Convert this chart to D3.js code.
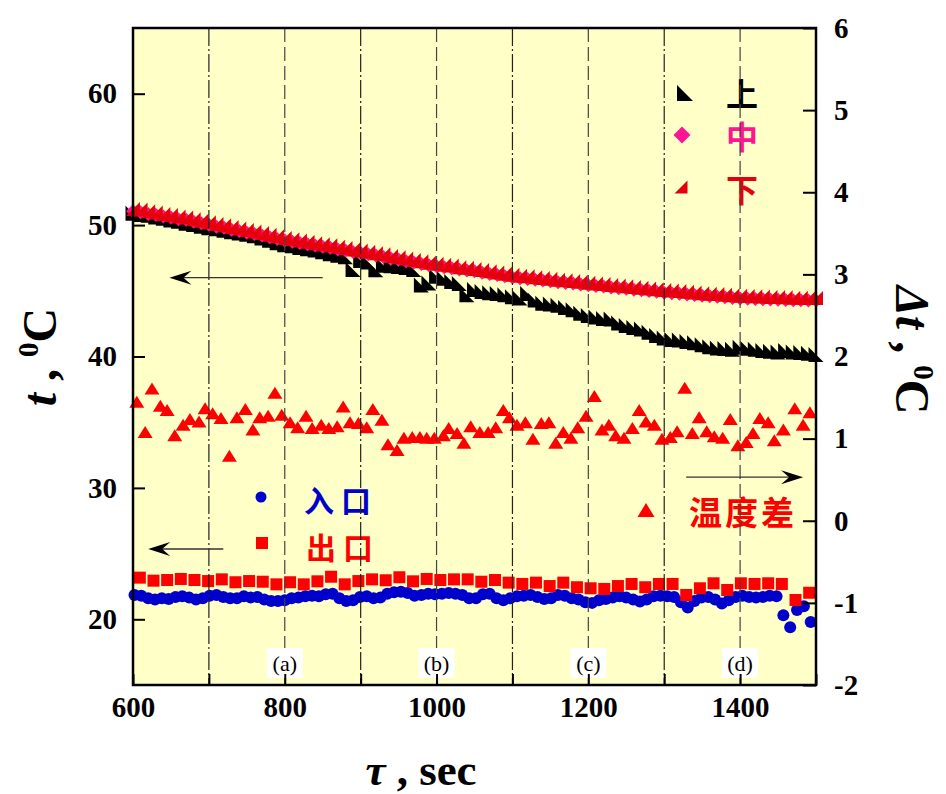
<!DOCTYPE html>
<html>
<head>
<meta charset="utf-8">
<script src="https://cdn.jsdelivr.net/npm/d3@7"></script>
<style>
body { margin: 0; background: #fff; }
</style>
</head>
<body>
<div id="vis"></div>
<script>
// Data

// 上 / 中 / 下 sampled every 10 s
const timeTop = [600,610,620,630,640,650,660,670,680,690,
    700,710,720,730,740,750,760,770,780,790,
    800,810,820,830,840,850,860,870,880,890,
    900,910,920,930,940,950,960,970,980,990,
    1000,1010,1020,1030,1040,1050,1060,1070,1080,1090,
    1100,1110,1120,1130,1140,1150,1160,1170,1180,1190,
    1200,1210,1220,1230,1240,1250,1260,1270,1280,1290,
    1300,1310,1320,1330,1340,1350,1360,1370,1380,1390,
    1400,1410,1420,1430,1440,1450,1460,1470,1480,1490,
    1500]
const upperTemp = [50.90,50.80,50.75,50.62,50.52,50.38,50.30,50.15,50.05,49.92,
    49.80,49.72,49.60,49.50,49.40,49.30,49.18,49.02,48.85,48.66,
    48.50,48.42,48.30,48.20,48.10,47.98,47.82,47.70,47.60,46.62,
    47.30,47.20,46.60,46.95,46.90,46.85,46.78,46.62,45.45,45.60,
    46.10,45.95,45.70,45.55,44.70,45.10,44.95,44.85,44.80,44.70,
    44.55,44.45,44.80,44.30,44.05,44.00,43.90,43.72,43.55,43.30,
    43.12,43.00,42.90,42.85,42.55,42.35,42.20,42.10,41.85,41.60,
    41.40,41.30,41.25,41.15,41.05,40.90,40.75,40.65,40.60,40.55,
    40.70,40.62,40.55,40.45,40.40,40.35,40.45,40.35,40.30,40.25,
    40.15]
const middleTemp = [51.05,50.98,50.85,50.78,50.65,50.58,50.45,50.40,50.25,50.15,
    50.02,49.88,49.80,49.65,49.55,49.42,49.33,49.20,49.08,48.95,
    48.82,48.74,48.63,48.55,48.44,48.35,48.28,48.15,48.06,47.96,
    47.88,47.78,47.68,47.58,47.46,47.38,47.25,47.16,47.04,46.95,
    46.86,46.80,46.72,46.62,46.55,46.48,46.38,46.28,46.20,46.10,
    46.02,45.96,45.90,45.85,45.78,45.72,45.66,45.60,45.55,45.48,
    45.42,45.36,45.32,45.25,45.20,45.15,45.08,45.04,44.98,44.92,
    44.86,44.82,44.78,44.72,44.68,44.62,44.58,44.55,44.50,44.46,
    44.42,44.40,44.38,44.36,44.33,44.32,44.30,44.28,44.28,44.26,
    44.26]
const lowerTemp = [51.22,51.18,51.05,50.95,50.85,50.76,50.66,50.58,50.45,50.33,
    50.22,50.08,49.98,49.85,49.74,49.62,49.52,49.40,49.26,49.15,
    49.02,48.93,48.82,48.74,48.62,48.55,48.46,48.35,48.25,48.15,
    48.06,47.98,47.86,47.78,47.65,47.56,47.45,47.35,47.25,47.14,
    47.05,46.98,46.92,46.80,46.75,46.66,46.58,46.48,46.40,46.30,
    46.22,46.15,46.10,46.04,45.98,45.92,45.85,45.80,45.74,45.68,
    45.62,45.56,45.52,45.45,45.40,45.35,45.28,45.24,45.18,45.12,
    45.06,45.02,44.98,44.92,44.88,44.82,44.78,44.75,44.70,44.66,
    44.62,44.60,44.58,44.56,44.53,44.52,44.50,44.48,44.48,44.46,
    44.45]

// 温度差 (right axis)
const diffTime = [605,616,625,636,645,655,666,675,687,695,705,
    716,727,737,748,758,767,778,787,796,807,
    817,828,836,848,858,869,877,886,897,908,
    916,928,936,948,957,968,978,987,997,1009,
    1016,1027,1036,1045,1057,1068,1078,1088,1096,1106,
    1117,1127,1138,1148,1157,1167,1177,1186,1197,1208,
    1218,1227,1236,1247,1258,1267,1276,1287,1297,1308,
    1317,1327,1337,1346,1356,1366,1377,1387,1397,1408,
    1417,1426,1437,1445,1457,1472,1483,1492]
const diffTemp = [1.45,1.08,1.61,1.40,1.35,1.04,1.17,1.24,1.21,1.37,1.31,
    1.25,0.79,1.26,1.36,1.11,1.26,1.28,1.56,1.29,1.20,
    1.14,1.28,1.13,1.17,1.13,1.15,1.39,1.20,1.19,1.14,
    1.36,1.23,0.93,0.86,1.01,1.02,1.02,1.01,1.01,1.04,
    1.13,1.07,0.95,1.15,1.08,1.08,1.14,1.35,1.26,1.17,
    1.20,1.00,1.19,1.20,0.95,1.08,1.01,1.14,1.28,1.52,
    1.11,1.17,1.04,1.01,1.13,1.35,1.21,1.17,1.00,1.02,
    1.09,1.62,1.07,1.26,1.09,1.03,1.01,1.24,0.92,0.96,
    1.07,1.25,1.20,0.98,1.11,1.37,1.17,1.32]

// 出口
const outletTime = [609,627,645,663,681,699,717,735,753,771,
    789,807,825,843,861,879,897,915,933,951,
    969,987,1005,1023,1041,1059,1077,1095,1113,1131,
    1149,1167,1185,1203,1221,1239,1257,1275,1293,1311,
    1329,1347,1365,1383,1401,1419,1437,1455,1473,1491]
const outletTemp = [23.17,22.94,22.99,23.07,22.99,22.91,23.04,22.82,22.91,22.86,
    22.66,22.82,22.66,22.89,23.24,22.66,22.91,23.04,22.97,23.20,
    22.89,23.07,22.99,23.04,23.04,22.86,22.99,22.79,22.69,22.79,
    22.53,22.79,22.44,22.36,22.31,22.53,22.69,22.44,22.69,22.69,
    21.85,22.36,22.74,22.23,22.74,22.69,22.74,22.69,21.47,22.02]

// 入口
const inletTime = [602,611,620,629,638,647,656,665,674,683,
    692,701,710,719,728,737,746,755,764,773,
    782,791,800,809,818,827,836,845,854,863,
    872,881,890,899,908,917,926,935,944,953,
    962,971,980,989,998,1007,1016,1025,1034,1043,
    1052,1061,1070,1079,1088,1097,1106,1115,1124,1133,
    1142,1151,1160,1169,1178,1187,1196,1205,1214,1223,
    1232,1241,1250,1259,1268,1277,1286,1295,1304,1313,
    1322,1331,1340,1349,1358,1367,1376,1385,1394,1403,
    1412,1421,1430,1439,1448,1457,1466,1475,1484,1493]
const inletTemp = [21.85,21.80,21.60,21.50,21.60,21.55,21.70,21.75,21.65,21.50,
    21.60,21.80,21.85,21.70,21.60,21.60,21.75,21.65,21.70,21.50,
    21.40,21.40,21.45,21.60,21.65,21.75,21.80,21.75,21.90,21.95,
    21.60,21.40,21.45,21.70,21.75,21.60,21.65,21.95,22.05,22.10,
    22.00,21.80,21.85,21.95,21.90,21.95,22.00,21.95,21.85,21.60,
    21.60,21.90,21.95,21.60,21.45,21.60,21.75,21.80,21.85,21.70,
    21.55,21.60,21.85,21.80,21.60,21.50,21.30,21.25,21.45,21.55,
    21.65,21.75,21.65,21.50,21.35,21.50,21.75,21.80,21.75,21.70,
    21.30,20.90,21.40,21.65,21.70,21.50,21.20,21.45,21.70,21.80,
    21.70,21.65,21.70,21.80,21.75,20.30,19.40,20.70,21.00,19.80]

// Axes and annotations
const leftTicks = [20, 30, 40, 50, 60]
const rightTicks = [-2, -1, 0, 1, 2, 3, 4, 5, 6]
const xTicks = [600, 700, 800, 900, 1000, 1100, 1200, 1300, 1400, 1500]
const xLabels = [600, 800, 1000, 1200, 1400]
const dashDotLines = [700, 900, 1100, 1300]
const dashLines = [800, 1000, 1200, 1400]
const periodNames = ['(a)', '(b)', '(c)', '(d)']
const periodTimes = [800, 1000, 1200, 1400]
// arrows: [from time, to time, value, axis]
const arrows = [
    [850, 648, 46.0, 'left'],
    [719, 620, 25.35, 'left'],
    [1329, 1483, 0.53, 'right']
]

const margin = {left: 133, top: 28, right: 130, bottom: 109}
const W = 946, H = 794
const plotW = W - margin.left - margin.right
const plotH = H - margin.top - margin.bottom

const serif = "'Liberation Serif', 'Times New Roman', serif"
const cjk = "'Noto Sans CJK SC', 'Noto Sans CJK JP', sans-serif"

let x = d3.scaleLinear([600, 1500], [margin.left, margin.left + plotW])
let yL = d3.scaleLinear([15, 65], [margin.top + plotH, margin.top])
let yR = d3.scaleLinear([-2, 6], [margin.top + plotH, margin.top])

let svg = d3.select('#vis')
    .append('svg')
    .attr('width', W)
    .attr('height', H)

// plot background
svg.append('rect')
    .attr('x', margin.left)
    .attr('y', margin.top)
    .attr('width', plotW)
    .attr('height', plotH)
    .attr('fill', '#ffffc8')

// marker shapes
const shapeUpper = 'M-7.5,-7.5L-7.5,7.5L7.5,7.5Z'
const shapeLower = 'M-7,7L7,7L7,-7Z'
const shapeDiamond = 'M0,-7L7,0L0,7L-7,0Z'
const shapeDiff = 'M0,-6L7.5,6L-7.5,6Z'

function drawSeries(times, values, yScale, shape, color, cls){
    svg.append('g').attr('class', cls)
        .selectAll('path')
        .data(times)
        .enter()
        .append('path')
            .attr('d', shape)
            .attr('fill', color)
            .attr('transform', (d, i) => `translate(${x(d)},${yScale(values[i])})`)
}

drawSeries(timeTop, upperTemp, yL, shapeUpper, '#000', 'upper')
drawSeries(timeTop, middleTemp, yL, shapeDiamond, '#ff1493', 'middle')
drawSeries(timeTop, lowerTemp, yL, shapeLower, '#e6000e', 'lower')
drawSeries(diffTime, diffTemp, yR, shapeDiff, '#ff0000', 'diff')

svg.append('g').attr('class', 'inlet')
    .selectAll('circle')
    .data(inletTime)
    .enter()
    .append('circle')
        .attr('cx', d => x(d))
        .attr('cy', (d, i) => yL(inletTemp[i]))
        .attr('r', 6)
        .attr('fill', '#0000cc')

svg.append('g').attr('class', 'outlet')
    .selectAll('rect')
    .data(outletTime)
    .enter()
    .append('rect')
        .attr('x', d => x(d) - 6)
        .attr('y', (d, i) => yL(outletTemp[i]) - 6)
        .attr('width', 12)
        .attr('height', 12)
        .attr('fill', '#ff0000')

// legends
let legend = svg.append('g').attr('class', 'legend')

function legendText(txt, x0, y0, size, color, spacing, anchor){
    legend.append('text')
        .attr('x', x0)
        .attr('y', y0)
        .attr('fill', color)
        .attr('font-family', cjk)
        .attr('font-weight', 'bold')
        .attr('font-size', size)
        .attr('letter-spacing', spacing)
        .attr('text-anchor', anchor)
        .attr('dominant-baseline', 'central')
        .text(txt)
}

legend.append('path').attr('d', 'M-8,-8L-8,8L8,8Z').attr('fill', '#000')
    .attr('transform', 'translate(685,93)')
legendText('上', 742, 92, 32, '#000', 0, 'middle')
legend.append('path').attr('d', 'M0,-8.5L8.5,0L0,8.5L-8.5,0Z').attr('fill', '#ff1493')
    .attr('transform', 'translate(682,135)')
legendText('中', 742, 135, 32, '#ff1493', 0, 'middle')
legend.append('path').attr('d', 'M-6.5,6.5L6.5,6.5L6.5,-6.5Z').attr('fill', '#e6000e')
    .attr('transform', 'translate(681,187)')
legendText('下', 742, 188, 32, '#e6000e', 0, 'middle')

legend.append('circle').attr('cx', 261).attr('cy', 497).attr('r', 5.5).attr('fill', '#0000cc')
legendText('入口', 304, 499, 30, '#0000cc', 7, 'start')
legend.append('rect').attr('x', 256).attr('y', 537).attr('width', 12).attr('height', 12).attr('fill', '#ff0000')
legendText('出口', 306, 546, 30, '#ff0000', 7, 'start')
legend.append('path').attr('d', 'M0,-7L8.5,7L-8.5,7Z').attr('fill', '#ff0000')
    .attr('transform', 'translate(646,510)')
legendText('温度差', 689, 511, 33, '#ff0000', 3, 'start')

// vertical guide lines (drawn over the data, as in the original)
svg.append('g').selectAll('line')
    .data(dashDotLines)
    .enter()
    .append('line')
        .attr('x1', d => x(d)).attr('x2', d => x(d))
        .attr('y1', margin.top).attr('y2', margin.top + plotH)
        .attr('stroke', '#222')
        .attr('stroke-width', 1.2)
        .attr('stroke-dasharray', '18,3,2,3')

svg.append('g').selectAll('line')
    .data(dashLines)
    .enter()
    .append('line')
        .attr('x1', d => x(d)).attr('x2', d => x(d))
        .attr('y1', margin.top).attr('y2', margin.top + plotH)
        .attr('stroke', '#444')
        .attr('stroke-width', 1.2)
        .attr('stroke-dasharray', '14,5')

// arrows
arrows.forEach(a => {
    let ys = a[3] === 'left' ? yL : yR
    let x1 = x(a[0]), x2 = x(a[1]), yy = ys(a[2])
    let dir = x2 < x1 ? 1 : -1
    svg.append('line')
        .attr('x1', x1).attr('x2', x2 + dir * 10)
        .attr('y1', yy).attr('y2', yy)
        .attr('stroke', '#333')
        .attr('stroke-width', 1.3)
    svg.append('path')
        .attr('d', `M0,0L${22 * dir},-7L${14 * dir},0L${22 * dir},7Z`)
        .attr('transform', `translate(${x2},${yy})`)
        .attr('fill', '#000')
})

// period labels
let periods = svg.append('g').selectAll('g')
    .data(periodTimes)
    .enter()
    .append('g')
        .attr('transform', d => `translate(${x(d)},663)`)
periods.append('rect')
    .attr('x', -18).attr('y', -15)
    .attr('width', 36).attr('height', 30)
    .attr('fill', '#fff')
periods.append('text')
    .attr('text-anchor', 'middle')
    .attr('dominant-baseline', 'central')
    .attr('font-family', serif)
    .attr('font-size', 22)
    .text((d, i) => periodNames[i])

// frame
svg.append('rect')
    .attr('x', margin.left)
    .attr('y', margin.top)
    .attr('width', plotW)
    .attr('height', plotH)
    .attr('fill', 'none')
    .attr('stroke', '#000')
    .attr('stroke-width', 2.5)

// axes
function styleAxis(g){
    g.select('.domain').remove()
    g.selectAll('.tick line').attr('stroke', '#000').attr('stroke-width', 2)
    g.selectAll('.tick text')
        .attr('font-family', serif)
        .attr('font-weight', 'bold')
        .attr('font-size', 29)
        .attr('fill', '#000')
}

svg.append('g')
    .attr('transform', `translate(${margin.left},0)`)
    .call(d3.axisLeft(yL).tickValues(leftTicks).tickSize(-12).tickPadding(16))
    .call(styleAxis)

svg.append('g')
    .attr('transform', `translate(${margin.left + plotW},0)`)
    .call(d3.axisRight(yR).tickValues(rightTicks).tickSize(-13).tickPadding(18)
        .tickFormat(d => String(d)))
    .call(styleAxis)

svg.append('g')
    .attr('transform', `translate(0,${margin.top + plotH})`)
    .call(d3.axisBottom(x).tickValues(xTicks).tickSize(-11).tickPadding(11)
        .tickFormat(d => xLabels.includes(d) ? String(d) : ''))
    .call(styleAxis)

// axis titles
let xTitle = svg.append('text')
    .attr('x', 421).attr('y', 785)
    .attr('text-anchor', 'middle')
    .attr('font-family', serif)
    .attr('font-weight', 'bold')
    .attr('font-size', 45)
xTitle.append('tspan').attr('font-style', 'italic').text('τ')
xTitle.append('tspan').text(' , sec')

let yTitle = svg.append('text')
    .attr('transform', 'translate(56,357) rotate(-90)')
    .attr('text-anchor', 'middle')
    .attr('font-family', serif)
    .attr('font-weight', 'bold')
    .attr('font-size', 48)
yTitle.append('tspan').attr('font-style', 'italic').text('t')
yTitle.append('tspan').text(' , ')
yTitle.append('tspan').attr('font-size', 29).attr('dy', -18).text('0')
yTitle.append('tspan').attr('dy', 18).text('C')

let y2Title = svg.append('text')
    .attr('transform', 'translate(896,350) rotate(90)')
    .attr('text-anchor', 'middle')
    .attr('font-family', serif)
    .attr('font-weight', 'bold')
    .attr('font-size', 48)
y2Title.append('tspan').attr('font-style', 'italic').text('Δt')
y2Title.append('tspan').text(' , ')
y2Title.append('tspan').attr('font-size', 29).attr('dy', -18).text('0')
y2Title.append('tspan').attr('dy', 18).text('C')
</script>
</body>
</html>
